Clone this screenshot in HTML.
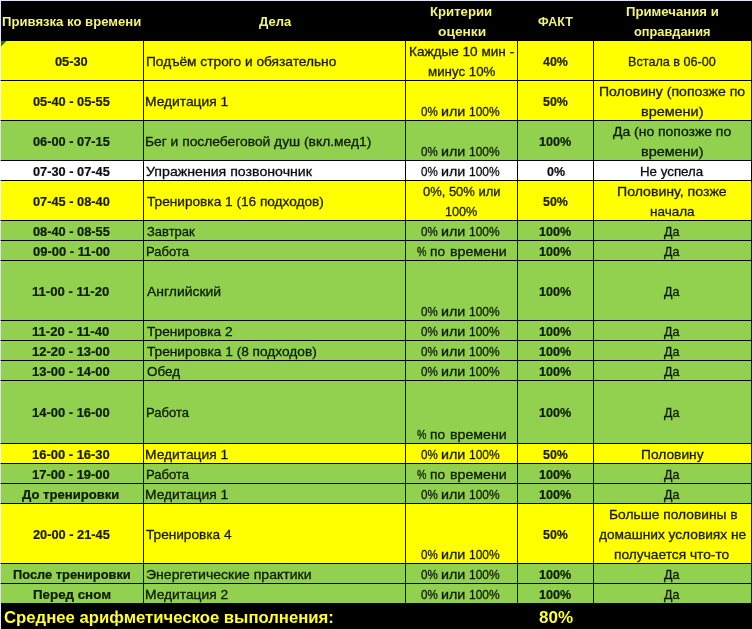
<!DOCTYPE html>
<html lang="ru"><head><meta charset="utf-8"><title>План дня</title>
<style>
html,body{margin:0;padding:0;background:#000;}
#s{position:relative;width:752px;height:629px;overflow:hidden;background:#000;font-family:"Liberation Sans",sans-serif;font-size:13.2px;line-height:20px;color:#151500;}
#s div{position:absolute;}
.r{left:0;width:751px;}
.v{top:41px;width:1px;height:562px;background:#000;}
.h{left:0;width:751px;height:1px;background:#000;}
.t{white-space:nowrap;height:20px;width:0;}
.t span{position:absolute;left:0;top:0;transform-origin:0 50%;}
.t{-webkit-text-stroke:0.3px #151500;}
.b{font-weight:bold;-webkit-text-stroke:0.2px #151500;}
.hd{color:#f3f378;font-weight:bold;-webkit-text-stroke:0;}
.ft{color:#ffff30;font-weight:bold;-webkit-text-stroke:0;font-size:16.5px;}
.y{color:#1b1a00;-webkit-text-stroke-color:#1b1a00}.g{color:#0c1a02;-webkit-text-stroke-color:#0c1a02}.w{color:#0b0b12;-webkit-text-stroke-color:#0b0b12}
</style></head><body>
<div id="s">
<div class="r" style="top:41px;height:39px;background:#ffff00"></div>
<div class="r" style="top:81px;height:39px;background:#ffff00"></div>
<div class="r" style="top:121px;height:39px;background:#92d050"></div>
<div class="r" style="top:161px;height:19px;background:#ffffff"></div>
<div class="r" style="top:181px;height:39px;background:#ffff00"></div>
<div class="r" style="top:221px;height:19px;background:#92d050"></div>
<div class="r" style="top:241px;height:19px;background:#92d050"></div>
<div class="r" style="top:261px;height:59px;background:#92d050"></div>
<div class="r" style="top:321px;height:19px;background:#92d050"></div>
<div class="r" style="top:341px;height:19px;background:#92d050"></div>
<div class="r" style="top:361px;height:19px;background:#92d050"></div>
<div class="r" style="top:381px;height:62px;background:#92d050"></div>
<div class="r" style="top:444px;height:19px;background:#ffff00"></div>
<div class="r" style="top:464px;height:19px;background:#92d050"></div>
<div class="r" style="top:484px;height:19px;background:#92d050"></div>
<div class="r" style="top:504px;height:59px;background:#ffff00"></div>
<div class="r" style="top:564px;height:19px;background:#92d050"></div>
<div class="r" style="top:584px;height:19px;background:#92d050"></div>
<div class="h" style="top:80px"></div>
<div class="h" style="top:120px"></div>
<div class="h" style="top:160px"></div>
<div class="h" style="top:180px"></div>
<div class="h" style="top:220px"></div>
<div class="h" style="top:240px"></div>
<div class="h" style="top:260px"></div>
<div class="h" style="top:320px"></div>
<div class="h" style="top:340px"></div>
<div class="h" style="top:360px"></div>
<div class="h" style="top:380px"></div>
<div class="h" style="top:443px"></div>
<div class="h" style="top:463px"></div>
<div class="h" style="top:483px"></div>
<div class="h" style="top:503px"></div>
<div class="h" style="top:563px"></div>
<div class="h" style="top:583px"></div>
<div class="v" style="left:143px"></div>
<div class="v" style="left:405px"></div>
<div class="v" style="left:517px"></div>
<div class="v" style="left:593px"></div>
<svg style="position:absolute;left:1px;top:41px" width="6" height="6"><path d="M0 0H5.5L0 5.5Z" fill="#1e7a1e"/></svg>
<div class="t hd" style="left:1.65px;top:12px"><span style="transform:scaleX(0.9943)">Привязка ко времени</span></div>
<div class="t hd" style="left:258.93px;top:12px"><span style="transform:scaleX(0.9885)">Дела</span></div>
<div class="t hd" style="left:430.30px;top:2px"><span style="transform:scaleX(0.9968)">Критерии</span></div>
<div class="t hd" style="left:438.00px;top:22px"><span style="transform:scaleX(1.0444)">оценки</span></div>
<div class="t hd" style="left:538.42px;top:12px"><span style="transform:scaleX(0.9452)">ФАКТ</span></div>
<div class="t hd" style="left:625.85px;top:2px"><span style="transform:scaleX(0.9980)">Примечания и</span></div>
<div class="t hd" style="left:633.77px;top:22px"><span style="transform:scaleX(0.9691)">оправдания</span></div>
<div class="t b y" style="left:55.06px;top:52px"><span style="transform:scaleX(0.9702)">05-30</span></div>
<div class="t y" style="left:145.63px;top:52px"><span style="transform:scaleX(1.0407)">Подъём строго и обязательно</span></div>
<div class="t y" style="left:408.72px;top:42px"><span style="transform:scaleX(1.0298)">Каждые 10 мин -</span></div>
<div class="t y" style="left:428.14px;top:62px"><span style="transform:scaleX(1.0092)">минус 10%</span></div>
<div class="t b y" style="left:543.14px;top:52px"><span style="transform:scaleX(0.9419)">40%</span></div>
<div class="t y" style="left:627.70px;top:52px"><span style="transform:scaleX(0.9583)">Встала в 06-00</span></div>
<div class="t b y" style="left:32.52px;top:92px"><span style="transform:scaleX(0.9694)">05-40 - 05-55</span></div>
<div class="t y" style="left:145.27px;top:92px"><span style="transform:scaleX(1.0457)">Медитация 1</span></div>
<div class="t y" style="left:0;top:102px"><span style="left:421.07px;transform:scaleX(0.8792)">0%</span> <span style="left:441.38px;transform:scaleX(1.0842)">или</span> <span style="left:469.27px;transform:scaleX(0.9091)">100%</span></div>
<div class="t b y" style="left:543.22px;top:92px"><span style="transform:scaleX(0.9390)">50%</span></div>
<div class="t y" style="left:599.18px;top:82px"><span style="transform:scaleX(1.0657)">Половину (попозже по</span></div>
<div class="t y" style="left:641.07px;top:102px"><span style="transform:scaleX(1.0930)">времени)</span></div>
<div class="t b g" style="left:32.52px;top:132px"><span style="transform:scaleX(0.9694)">06-00 - 07-15</span></div>
<div class="t g" style="left:145.23px;top:132px"><span style="transform:scaleX(1.0475)">Бег и послебеговой душ (вкл.мед1)</span></div>
<div class="t g" style="left:0;top:142px"><span style="left:421.07px;transform:scaleX(0.8792)">0%</span> <span style="left:441.38px;transform:scaleX(1.0842)">или</span> <span style="left:469.27px;transform:scaleX(0.9091)">100%</span></div>
<div class="t b g" style="left:539.24px;top:132px"><span style="transform:scaleX(0.9579)">100%</span></div>
<div class="t g" style="left:613.05px;top:122px"><span style="transform:scaleX(1.0572)">Да (но попозже по</span></div>
<div class="t g" style="left:641.07px;top:142px"><span style="transform:scaleX(1.0930)">времени)</span></div>
<div class="t b w" style="left:32.52px;top:162px"><span style="transform:scaleX(0.9694)">07-30 - 07-45</span></div>
<div class="t w" style="left:146.47px;top:162px"><span style="transform:scaleX(1.0728)">Упражнения позвоночник</span></div>
<div class="t w" style="left:0;top:162px"><span style="left:421.07px;transform:scaleX(0.8792)">0%</span> <span style="left:441.38px;transform:scaleX(1.0842)">или</span> <span style="left:469.27px;transform:scaleX(0.9091)">100%</span></div>
<div class="t b w" style="left:546.59px;top:162px"><span style="transform:scaleX(0.9460)">0%</span></div>
<div class="t w" style="left:640.04px;top:162px"><span style="transform:scaleX(1.0097)">Не успела</span></div>
<div class="t b y" style="left:32.52px;top:192px"><span style="transform:scaleX(0.9694)">07-45 - 08-40</span></div>
<div class="t y" style="left:146.87px;top:192px"><span style="transform:scaleX(1.0351)">Тренировка 1 (16 подходов)</span></div>
<div class="t y" style="left:423.11px;top:182px"><span style="transform:scaleX(0.9821)">0%, 50% или</span></div>
<div class="t y" style="left:445.16px;top:202px"><span style="transform:scaleX(0.9582)">100%</span></div>
<div class="t b y" style="left:543.22px;top:192px"><span style="transform:scaleX(0.9390)">50%</span></div>
<div class="t y" style="left:616.97px;top:182px"><span style="transform:scaleX(1.0706)">Половину, позже</span></div>
<div class="t y" style="left:649.53px;top:202px"><span style="transform:scaleX(1.0235)">начала</span></div>
<div class="t b g" style="left:32.52px;top:222px"><span style="transform:scaleX(0.9694)">08-40 - 08-55</span></div>
<div class="t g" style="left:146.74px;top:222px"><span style="transform:scaleX(0.9838)">Завтрак</span></div>
<div class="t g" style="left:0;top:222px"><span style="left:421.07px;transform:scaleX(0.8792)">0%</span> <span style="left:441.38px;transform:scaleX(1.0842)">или</span> <span style="left:469.27px;transform:scaleX(0.9091)">100%</span></div>
<div class="t b g" style="left:539.24px;top:222px"><span style="transform:scaleX(0.9579)">100%</span></div>
<div class="t g" style="left:664.19px;top:222px"><span style="transform:scaleX(0.9412)">Да</span></div>
<div class="t b g" style="left:32.52px;top:242px"><span style="transform:scaleX(0.9821)">09-00 - 11-00</span></div>
<div class="t g" style="left:146.06px;top:242px"><span style="transform:scaleX(0.9907)">Работа</span></div>
<div class="t g" style="left:0;top:242px"><span style="left:416.98px;transform:scaleX(0.8040)">%</span> <span style="left:430.37px;transform:scaleX(1.0342)">по</span> <span style="left:449.73px;transform:scaleX(1.0773)">времени</span></div>
<div class="t b g" style="left:539.24px;top:242px"><span style="transform:scaleX(0.9579)">100%</span></div>
<div class="t g" style="left:664.19px;top:242px"><span style="transform:scaleX(0.9412)">Да</span></div>
<div class="t b g" style="left:32.00px;top:282px"><span style="transform:scaleX(0.9949)">11-00 - 11-20</span></div>
<div class="t g" style="left:146.88px;top:282px"><span style="transform:scaleX(1.0572)">Английский</span></div>
<div class="t g" style="left:0;top:302px"><span style="left:421.07px;transform:scaleX(0.8792)">0%</span> <span style="left:441.38px;transform:scaleX(1.0842)">или</span> <span style="left:469.27px;transform:scaleX(0.9091)">100%</span></div>
<div class="t b g" style="left:539.24px;top:282px"><span style="transform:scaleX(0.9579)">100%</span></div>
<div class="t g" style="left:664.19px;top:282px"><span style="transform:scaleX(0.9412)">Да</span></div>
<div class="t b g" style="left:32.00px;top:322px"><span style="transform:scaleX(0.9949)">11-20 - 11-40</span></div>
<div class="t g" style="left:146.97px;top:322px"><span style="transform:scaleX(1.0338)">Тренировка 2</span></div>
<div class="t g" style="left:0;top:322px"><span style="left:421.07px;transform:scaleX(0.8792)">0%</span> <span style="left:441.38px;transform:scaleX(1.0842)">или</span> <span style="left:469.27px;transform:scaleX(0.9091)">100%</span></div>
<div class="t b g" style="left:539.24px;top:322px"><span style="transform:scaleX(0.9579)">100%</span></div>
<div class="t g" style="left:664.19px;top:322px"><span style="transform:scaleX(0.9412)">Да</span></div>
<div class="t b g" style="left:32.01px;top:342px"><span style="transform:scaleX(0.9821)">12-20 - 13-00</span></div>
<div class="t g" style="left:146.77px;top:342px"><span style="transform:scaleX(1.0379)">Тренировка 1 (8 подходов)</span></div>
<div class="t g" style="left:0;top:342px"><span style="left:421.07px;transform:scaleX(0.8792)">0%</span> <span style="left:441.38px;transform:scaleX(1.0842)">или</span> <span style="left:469.27px;transform:scaleX(0.9091)">100%</span></div>
<div class="t b g" style="left:539.24px;top:342px"><span style="transform:scaleX(0.9579)">100%</span></div>
<div class="t g" style="left:664.19px;top:342px"><span style="transform:scaleX(0.9412)">Да</span></div>
<div class="t b g" style="left:32.01px;top:362px"><span style="transform:scaleX(0.9821)">13-00 - 14-00</span></div>
<div class="t g" style="left:146.53px;top:362px"><span style="transform:scaleX(1.0197)">Обед</span></div>
<div class="t g" style="left:0;top:362px"><span style="left:421.07px;transform:scaleX(0.8792)">0%</span> <span style="left:441.38px;transform:scaleX(1.0842)">или</span> <span style="left:469.27px;transform:scaleX(0.9091)">100%</span></div>
<div class="t b g" style="left:539.24px;top:362px"><span style="transform:scaleX(0.9579)">100%</span></div>
<div class="t g" style="left:664.19px;top:362px"><span style="transform:scaleX(0.9412)">Да</span></div>
<div class="t b g" style="left:32.01px;top:403px"><span style="transform:scaleX(0.9821)">14-00 - 16-00</span></div>
<div class="t g" style="left:146.06px;top:403px"><span style="transform:scaleX(0.9907)">Работа</span></div>
<div class="t g" style="left:0;top:425px"><span style="left:416.98px;transform:scaleX(0.8040)">%</span> <span style="left:430.37px;transform:scaleX(1.0342)">по</span> <span style="left:449.73px;transform:scaleX(1.0773)">времени</span></div>
<div class="t b g" style="left:539.24px;top:403px"><span style="transform:scaleX(0.9579)">100%</span></div>
<div class="t g" style="left:664.19px;top:403px"><span style="transform:scaleX(0.9412)">Да</span></div>
<div class="t b y" style="left:32.01px;top:445px"><span style="transform:scaleX(0.9821)">16-00 - 16-30</span></div>
<div class="t y" style="left:145.27px;top:445px"><span style="transform:scaleX(1.0457)">Медитация 1</span></div>
<div class="t y" style="left:0;top:445px"><span style="left:421.07px;transform:scaleX(0.8792)">0%</span> <span style="left:441.38px;transform:scaleX(1.0842)">или</span> <span style="left:469.27px;transform:scaleX(0.9091)">100%</span></div>
<div class="t b y" style="left:543.22px;top:445px"><span style="transform:scaleX(0.9390)">50%</span></div>
<div class="t y" style="left:640.88px;top:445px"><span style="transform:scaleX(1.0439)">Половину</span></div>
<div class="t b g" style="left:32.01px;top:465px"><span style="transform:scaleX(0.9821)">17-00 - 19-00</span></div>
<div class="t g" style="left:146.06px;top:465px"><span style="transform:scaleX(0.9907)">Работа</span></div>
<div class="t g" style="left:0;top:465px"><span style="left:416.98px;transform:scaleX(0.8040)">%</span> <span style="left:430.37px;transform:scaleX(1.0342)">по</span> <span style="left:449.73px;transform:scaleX(1.0773)">времени</span></div>
<div class="t b g" style="left:539.24px;top:465px"><span style="transform:scaleX(0.9579)">100%</span></div>
<div class="t g" style="left:664.19px;top:465px"><span style="transform:scaleX(0.9412)">Да</span></div>
<div class="t b g" style="left:22.30px;top:485px"><span style="transform:scaleX(0.9918)">До тренировки</span></div>
<div class="t g" style="left:145.27px;top:485px"><span style="transform:scaleX(1.0457)">Медитация 1</span></div>
<div class="t g" style="left:0;top:485px"><span style="left:421.07px;transform:scaleX(0.8792)">0%</span> <span style="left:441.38px;transform:scaleX(1.0842)">или</span> <span style="left:469.27px;transform:scaleX(0.9091)">100%</span></div>
<div class="t b g" style="left:539.24px;top:485px"><span style="transform:scaleX(0.9579)">100%</span></div>
<div class="t g" style="left:664.19px;top:485px"><span style="transform:scaleX(0.9412)">Да</span></div>
<div class="t b y" style="left:33.49px;top:525px"><span style="transform:scaleX(0.9697)">20-00 - 21-45</span></div>
<div class="t y" style="left:146.47px;top:525px"><span style="transform:scaleX(1.0338)">Тренировка 4</span></div>
<div class="t y" style="left:0;top:545px"><span style="left:421.07px;transform:scaleX(0.8792)">0%</span> <span style="left:441.38px;transform:scaleX(1.0842)">или</span> <span style="left:469.27px;transform:scaleX(0.9091)">100%</span></div>
<div class="t b y" style="left:543.22px;top:525px"><span style="transform:scaleX(0.9390)">50%</span></div>
<div class="t y" style="left:608.74px;top:505px"><span style="transform:scaleX(1.0459)">Больше половины в</span></div>
<div class="t y" style="left:598.57px;top:525px"><span style="transform:scaleX(1.0395)">домашних условиях не</span></div>
<div class="t y" style="left:614.37px;top:545px"><span style="transform:scaleX(1.0418)">получается что-то</span></div>
<div class="t b g" style="left:12.86px;top:565px"><span style="transform:scaleX(0.9751)">После тренировки</span></div>
<div class="t g" style="left:145.57px;top:565px"><span style="transform:scaleX(1.0646)">Энергетические практики</span></div>
<div class="t g" style="left:0;top:565px"><span style="left:421.07px;transform:scaleX(0.8792)">0%</span> <span style="left:441.38px;transform:scaleX(1.0842)">или</span> <span style="left:469.27px;transform:scaleX(0.9091)">100%</span></div>
<div class="t b g" style="left:539.24px;top:565px"><span style="transform:scaleX(0.9579)">100%</span></div>
<div class="t g" style="left:664.19px;top:565px"><span style="transform:scaleX(0.9412)">Да</span></div>
<div class="t b g" style="left:33.49px;top:585px"><span style="transform:scaleX(1.0107)">Перед сном</span></div>
<div class="t g" style="left:145.27px;top:585px"><span style="transform:scaleX(1.0457)">Медитация 2</span></div>
<div class="t g" style="left:0;top:585px"><span style="left:421.07px;transform:scaleX(0.8792)">0%</span> <span style="left:441.38px;transform:scaleX(1.0842)">или</span> <span style="left:469.27px;transform:scaleX(0.9091)">100%</span></div>
<div class="t b g" style="left:539.24px;top:585px"><span style="transform:scaleX(0.9579)">100%</span></div>
<div class="t g" style="left:664.19px;top:585px"><span style="transform:scaleX(0.9412)">Да</span></div>
<div class="t ft" style="left:3.99px;top:607px"><span style="transform:scaleX(1.0124)">Среднее арифметическое выполнения:</span></div>
<div class="t ft" style="left:539.00px;top:607px"><span style="transform:scaleX(1.0303)">80%</span></div>
<div style="left:0;top:0;width:752px;height:1px;background:#e4e4f4"></div>
<div style="left:0;top:41px;width:1px;height:562px;background:rgba(255,255,255,.6)"></div>
<div style="left:0;top:0;width:1px;height:41px;background:#e4e4f4"></div>
<div style="left:0;top:603px;width:1px;height:26px;background:#e4e4f4"></div>
<div style="left:751px;top:41px;width:1px;height:562px;background:#000"></div>
</div>
</body></html>
